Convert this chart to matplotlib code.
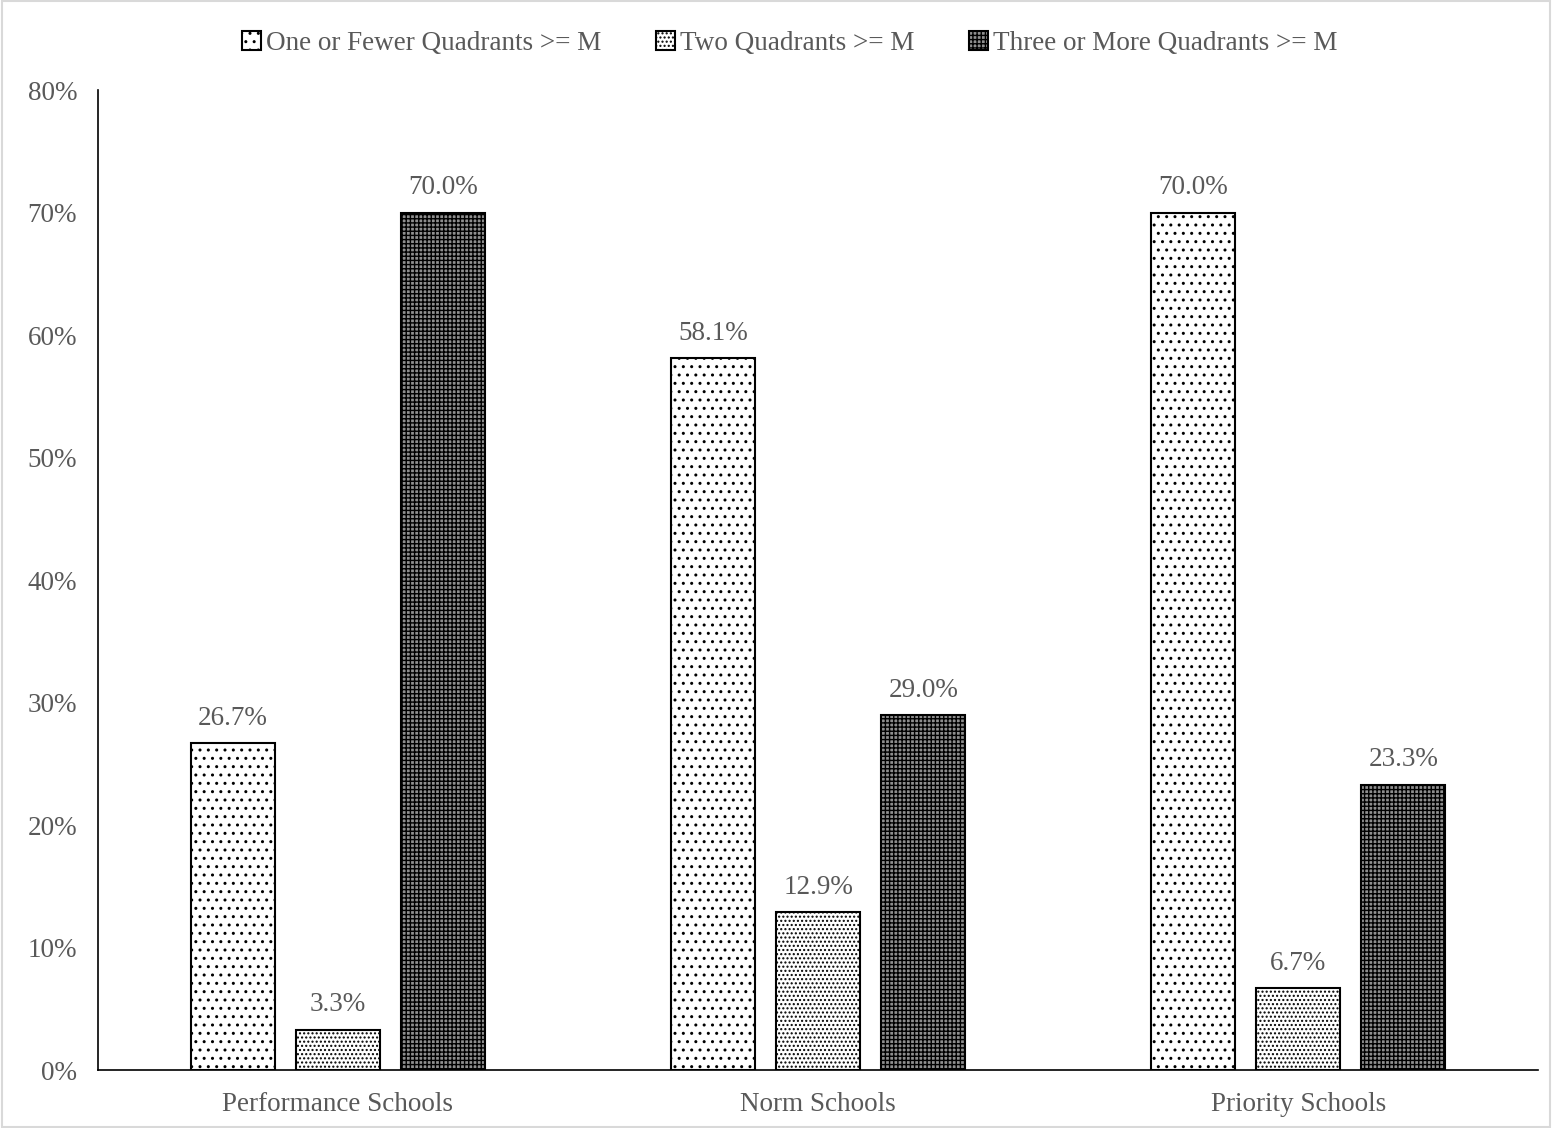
import matplotlib.pyplot as plt
import numpy as np
from matplotlib.patches import Rectangle

plt.rcParams['font.family'] = ['Liberation Serif', 'DejaVu Serif']
plt.rcParams['hatch.linewidth'] = 1.0

# data
groups = ['Performance Schools', 'Norm Schools', 'Priority Schools']
series = ['One or Fewer Quadrants >= M', 'Two Quadrants >= M', 'Three or More Quadrants >= M']
one_or_fewer = [26.7, 58.1, 70.0]
two = [3.3, 12.9, 6.7]
three_or_more = [70.0, 29.0, 23.3]

text_col = '#595959'
fs = 19.5
fig = plt.figure(figsize=(15.52, 11.28), dpi=100)
ax = fig.add_axes([0.0631, 0.0514, 0.928, 0.8686])

x = np.arange(len(groups))
w = 0.175
off = 0.219
styles = [('white', '..'), ('white', '....'), ('#8f8f8f', '++++')]
for i, (vals, (fc, h)) in enumerate(zip([one_or_fewer, two, three_or_more], styles)):
    bars = ax.bar(x + (i - 1) * off, vals, w, facecolor=fc, edgecolor='black',
                  hatch=h, linewidth=1.5, label=series[i])
    for b, v in zip(bars, vals):
        ax.text(b.get_x() + b.get_width() / 2, v + 1.0, f'{v:.1f}%', ha='center',
                va='bottom', fontsize=fs, color=text_col)

ax.set_xlim(-0.5, 2.5)
ax.set_ylim(0, 80)
ax.set_yticks(range(0, 81, 10))
ax.set_yticklabels([f'{t}%' for t in range(0, 81, 10)])
ax.set_xticks(x)
ax.set_xticklabels(groups)
ax.tick_params(axis='both', length=0, labelsize=fs, labelcolor=text_col)
ax.tick_params(axis='y', pad=15)
ax.tick_params(axis='x', pad=16)
for s in ['top', 'right']:
    ax.spines[s].set_visible(False)
ax.spines['left'].set_linewidth(1.2)
ax.spines['bottom'].set_linewidth(1.2)

leg = ax.legend(loc='center', ncol=3, frameon=False, fontsize=fs, handlelength=0.7,
                handleheight=0.7, handletextpad=0.2, columnspacing=2.0, labelcolor=text_col)
leg.set_bbox_to_anchor((0.509, 1 - 43 / 1128), transform=fig.transFigure)

fig.patches.append(Rectangle((0.001, 0.001), 0.998, 0.998, transform=fig.transFigure,
                             fill=False, edgecolor='#d9d9d9', linewidth=1.5))

fig.savefig('out.png', dpi=100)
